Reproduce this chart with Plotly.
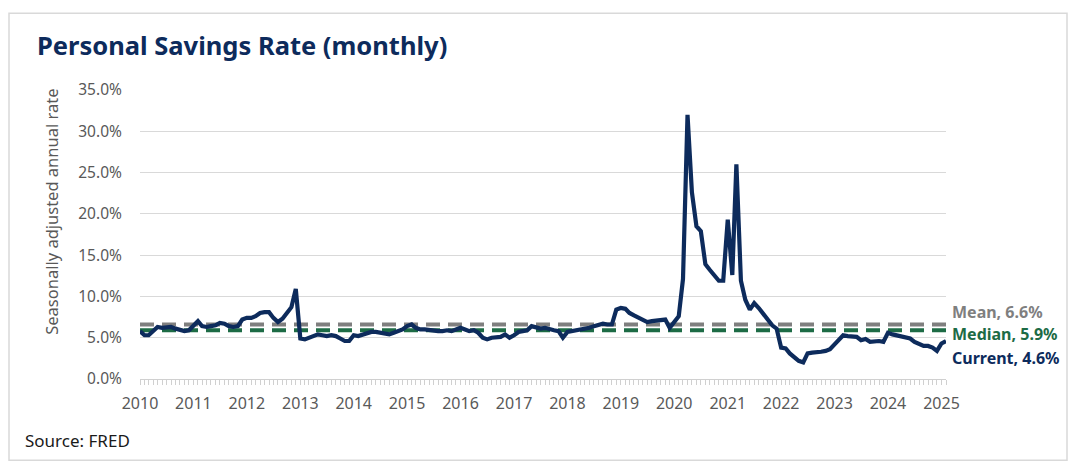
import pandas as pd
import plotly.graph_objects as go

# ---- data (personal saving rate, %, monthly, Jan 2010 - Feb 2025) ----
rate_2010 = [5.8, 5.3, 5.3, 5.8, 6.3, 6.2, 6.2, 6.3, 6.1, 6.0, 5.8, 5.9]
rate_2011 = [6.4, 7.0, 6.4, 6.3, 6.4, 6.5, 6.8, 6.7, 6.4, 6.3, 6.4, 7.2]
rate_2012 = [7.4, 7.4, 7.6, 8.0, 8.1, 8.1, 7.4, 6.9, 7.3, 7.9, 8.7, 10.9]
rate_2013 = [4.9, 4.8, 5.0, 5.2, 5.4, 5.3, 5.2, 5.3, 5.2, 4.9, 4.6, 4.6]
rate_2014 = [5.3, 5.2, 5.4, 5.6, 5.7, 5.7, 5.6, 5.5, 5.4, 5.6, 5.8, 6.0]
rate_2015 = [6.4, 6.6, 6.2, 6.0, 6.0, 5.9, 5.8, 5.8, 5.8, 5.9, 5.8, 6.0]
rate_2016 = [6.2, 6.0, 5.8, 5.9, 5.6, 5.0, 4.8, 5.0, 5.1, 5.1, 5.4, 5.0]
rate_2017 = [5.3, 5.7, 5.8, 5.9, 6.4, 6.2, 6.1, 6.2, 6.0, 5.9, 5.8, 5.0]
rate_2018 = [5.7, 5.8, 5.9, 6.0, 6.0, 6.2, 6.4, 6.6, 6.7, 6.6, 6.6, 8.4]
rate_2019 = [8.6, 8.5, 8.0, 7.7, 7.4, 7.2, 6.9, 7.0, 7.1, 7.2, 7.2, 6.2]
rate_2020 = [6.9, 7.6, 12.1, 32.0, 22.6, 18.5, 17.9, 13.9, 13.2, 12.6, 11.9, 11.9]
rate_2021 = [19.3, 12.6, 26.0, 11.9, 9.6, 8.4, 9.2, 8.6, 7.8, 7.2, 6.5, 6.1]
rate_2022 = [3.8, 3.7, 3.1, 2.6, 2.2, 2.0, 3.1, 3.2, 3.2, 3.3, 3.4, 3.6]
rate_2023 = [4.2, 4.7, 5.3, 5.2, 5.2, 5.1, 4.7, 4.85, 4.5, 4.6, 4.6, 4.5]
rate_2024 = [5.6, 5.4, 5.3, 5.2, 5.1, 4.9, 4.5, 4.3, 4.0, 4.0, 3.8, 3.4]
rate_2025 = [4.3, 4.6]

savings_rate = (rate_2010 + rate_2011 + rate_2012 + rate_2013 + rate_2014 +
                rate_2015 + rate_2016 + rate_2017 + rate_2018 + rate_2019 +
                rate_2020 + rate_2021 + rate_2022 + rate_2023 + rate_2024 +
                rate_2025)
dates = pd.date_range("2010-01-01", periods=len(savings_rate), freq="MS")

mean_value = 6.6
median_value = 5.9
current_value = 4.6

year_ticks = [f"{y}-01-01" for y in range(2010, 2026)]
year_labels = [str(y) for y in range(2010, 2026)]
y_ticks = [0, 5, 10, 15, 20, 25, 30, 35]
y_labels = [f"{v:.1f}%" for v in y_ticks]

NAVY = "#0D2B5C"
GRAY = "#7F7F7F"
GREEN = "#1D6B45"
FONT = "Noto Sans"

# page body has an 8px margin; figure is sized to fit the window
W, H = 1062, 454
L, R, T, B = 132, 124, 82, 82.5
PW, PH = W - L - R, H - T - B


def px(x):  # figure-pixel x -> paper
    return (x - L) / PW


def py(y):  # figure-pixel y -> paper
    return (H - B - y) / PH


fig = go.Figure()
fig.add_trace(go.Scatter(x=[dates[0], dates[-1]], y=[mean_value, mean_value],
                         mode="lines", line=dict(color=GRAY, width=4, dash="14px,8px"),
                         hoverinfo="skip", showlegend=False))
fig.add_trace(go.Scatter(x=[dates[0], dates[-1]], y=[median_value, median_value],
                         mode="lines", line=dict(color=GREEN, width=4, dash="14px,8px"),
                         hoverinfo="skip", showlegend=False))
fig.add_trace(go.Scatter(x=dates, y=savings_rate, mode="lines",
                         line=dict(color=NAVY, width=4.2), showlegend=False))

fig.update_layout(
    width=W, height=H,
    margin=dict(l=L, r=R, t=T, b=B),
    paper_bgcolor="white", plot_bgcolor="white",
    font=dict(family=FONT, color="#595959", size=14),
    showlegend=False,
)
fig.update_xaxes(
    range=[dates[0], dates[-1]],
    tickvals=year_ticks, ticktext=year_labels,
    ticks="outside", ticklen=5, tickcolor="#D0D0D0", tickwidth=1,
    minor=dict(dtick="M1", ticks="outside", ticklen=5, tickcolor="#D0D0D0", tickwidth=1),
    showline=True, linecolor="#D0D0D0", linewidth=1,
    showgrid=False, zeroline=False,
    ticklabelstandoff=5,
    tickfont=dict(family=FONT, size=16, color="#595959"),
)
fig.update_yaxes(
    range=[0, 35], tickvals=y_ticks, ticktext=y_labels,
    showgrid=True, gridcolor="#D9D9D9", gridwidth=1,
    zeroline=False, showline=False,
    ticks="outside", ticklen=14, tickcolor="rgba(0,0,0,0)",
    tickfont=dict(family=FONT, size=15.5, color="#595959"),
)

# Border frame
fig.add_shape(type="rect", xref="paper", yref="paper",
              x0=px(1), x1=px(1059), y0=py(453), y1=py(5),
              line=dict(color="#D9D9D9", width=1.5), fillcolor="rgba(0,0,0,0)")

# Title
fig.add_annotation(text="<b>Personal Savings Rate (monthly)</b>", xref="paper", yref="paper",
                   x=px(27), y=py(37), xanchor="left", yanchor="middle",
                   showarrow=False, font=dict(family=FONT, size=25.5, color=NAVY))
# Y-axis title
fig.add_annotation(text="Seasonally adjusted annual rate", xref="paper", yref="paper",
                   x=px(44), y=py(204), xanchor="center", yanchor="middle",
                   textangle=-90, showarrow=False, font=dict(family=FONT, size=16.5, color="#595959"))
# Source
fig.add_annotation(text="Source: FRED", xref="paper", yref="paper",
                   x=px(15), y=py(433), xanchor="left", yanchor="middle",
                   showarrow=False, font=dict(family=FONT, size=17, color="#1A1A1A"))
# Right-side labels
for txt, col, ypix in [(f"<b>Mean, {mean_value}%</b>", GRAY, 304),
                       (f"<b>Median, {median_value}%</b>", GREEN, 326),
                       (f"<b>Current, {current_value}%</b>", NAVY, 350)]:
    fig.add_annotation(text=txt, xref="paper", yref="paper",
                       x=px(942), y=py(ypix), xanchor="left", yanchor="middle",
                       showarrow=False, font=dict(family=FONT, size=16, color=col))

fig.write_html("out.html")
